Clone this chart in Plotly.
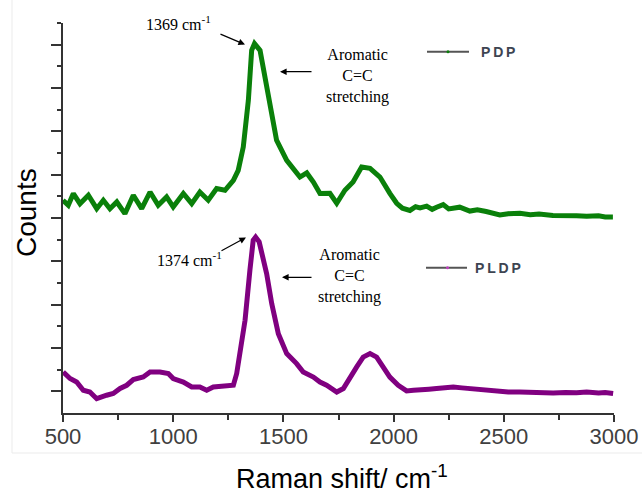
import plotly.graph_objects as go

# ---------------- data ----------------
pdp_x = [500, 524, 547, 577, 615, 653, 683, 713, 744, 781, 819, 857, 895, 932, 970,
         1000, 1046, 1084, 1121, 1159, 1197, 1235, 1273, 1295, 1318, 1341, 1356, 1369,
         1394, 1416, 1439, 1469, 1515, 1575, 1606, 1636, 1666, 1711, 1742, 1779, 1816,
         1855, 1893, 1938, 1983, 2014, 2040, 2074, 2100, 2120, 2150, 2175, 2195, 2225,
         2250, 2271, 2300, 2346, 2380, 2420, 2450, 2482, 2520, 2573, 2620, 2660, 2723,
         2780, 2830, 2876, 2930, 2960, 2995]
pdp_y = [9.82, 9.59, 10.13, 9.66, 10.05, 9.43, 9.82, 9.43, 9.74, 9.20, 10.05, 9.43, 10.20,
         9.59, 9.97, 9.51, 10.13, 9.66, 10.20, 9.82, 10.36, 10.28, 10.74, 11.20, 12.28,
         14.43, 16.74, 17.05, 16.74, 15.51, 13.97, 12.59, 11.66, 10.89, 11.08, 10.66,
         10.13, 10.14, 9.68, 10.28, 10.66, 11.35, 11.29, 10.89, 10.14, 9.68, 9.45, 9.35,
         9.52, 9.47, 9.55, 9.40, 9.50, 9.62, 9.42, 9.45, 9.50, 9.32, 9.38, 9.30, 9.25,
         9.14, 9.20, 9.22, 9.15, 9.18, 9.12, 9.14, 9.10, 9.08, 9.10, 9.05, 9.05]

pldp_x = [501, 532, 562, 592, 622, 653, 698, 728, 759, 789, 819, 864, 895, 940, 978,
          1000, 1046, 1084, 1121, 1152, 1182, 1227, 1273, 1288, 1303, 1326, 1348, 1363,
          1374, 1390, 1424, 1447, 1477, 1515, 1560, 1590, 1636, 1666, 1696, 1742, 1772,
          1802, 1832, 1862, 1893, 1923, 1953, 1983, 2021, 2059, 2090, 2120, 2160, 2195,
          2230, 2271, 2310, 2346, 2380, 2422, 2470, 2520, 2573, 2630, 2680, 2724, 2780,
          2830, 2876, 2930, 2960, 2996]
pldp_y = [1.89, 1.59, 1.43, 1.05, 0.97, 0.66, 0.82, 0.90, 1.13, 1.28, 1.54, 1.66, 1.89,
          1.89, 1.82, 1.59, 1.43, 1.20, 1.20, 1.05, 1.20, 1.23, 1.28, 1.82, 2.74, 4.28,
          6.59, 7.97, 8.12, 7.90, 6.43, 5.05, 3.66, 2.74, 2.28, 1.89, 1.66, 1.43, 1.28,
          0.97, 1.13, 1.66, 2.12, 2.58, 2.74, 2.58, 2.12, 1.66, 1.28, 1.02, 1.05, 1.05,
          1.10, 1.13, 1.18, 1.20, 1.16, 1.13, 1.10, 1.02, 1.00, 0.97, 0.97, 0.94, 0.96,
          0.92, 0.95, 0.93, 0.97, 0.92, 0.95, 0.90]

x_ticks = [500, 1000, 1500, 2000, 2500, 3000]
x_tick_labels = ["500", "1000", "1500", "2000", "2500", "3000"]
y_major = [1, 3, 5, 7, 9, 11, 13, 15, 17]
y_minor = [2, 4, 6, 8, 10, 12, 14, 16, 18]

series_names = ["PDP", "PLDP"]
peak_labels = ["1369 cm<sup>-1</sup>", "1374 cm<sup>-1</sup>"]
band_label = "Aromatic<br>C=C<br>stretching"

GREEN = "#0a800a"
PURPLE = "#800080"

# ---------------- layout helpers (pixel -> paper) ----------------
L, R, T, B = 63, 28, 23, 80
W, H = 642, 493
PW, PH = W - L - R, H - T - B


def px(p):
    return (p - L) / PW


def py(p):
    return (H - B - p) / PH


fig = go.Figure()
fig.add_trace(go.Scatter(x=pdp_x, y=pdp_y, mode="lines", name=series_names[0],
                         line=dict(color=GREEN, width=5), showlegend=False))
fig.add_trace(go.Scatter(x=pldp_x, y=pldp_y, mode="lines", name=series_names[1],
                         line=dict(color=PURPLE, width=5), showlegend=False))

serif = "Liberation Serif, Times New Roman, serif"
sans = "Liberation Sans, Arial, sans-serif"

txt = dict(xref="paper", yref="paper", showarrow=False, xanchor="center",
           yanchor="middle")
ann = []
# peak labels
ann.append(dict(txt, x=px(178), y=py(23), text=peak_labels[0],
                font=dict(family=serif, size=16, color="black")))
ann.append(dict(txt, x=px(189), y=py(259), text=peak_labels[1],
                font=dict(family=serif, size=16, color="black")))
# band labels
ann.append(dict(txt, x=px(357), y=py(76), text=band_label,
                font=dict(family=serif, size=16, color="black")))
ann.append(dict(txt, x=px(349), y=py(276), text=band_label,
                font=dict(family=serif, size=16, color="black")))
# arrows
arrow = dict(xref="paper", yref="paper", text="", showarrow=True, arrowhead=2,
             arrowsize=1.1, arrowwidth=1.2, arrowcolor="black")
ann.append(dict(arrow, x=px(245), y=py(44.5), ax=-26, ay=-11))
ann.append(dict(arrow, x=px(280), y=py(71.7), ax=33, ay=0))
ann.append(dict(arrow, x=px(246), y=py(237.5), ax=-26, ay=14))
ann.append(dict(arrow, x=px(282), y=py(277.3), ax=31, ay=0))
# legend texts
leg_font = dict(family=sans, size=14, color="#3d4451", weight="bold")
ann.append(dict(txt, x=px(479), y=py(52), text="P\u2009D\u2009P", xanchor="left",
                font=leg_font))
ann.append(dict(txt, x=px(473), y=py(267.5), text="P\u2009L\u2009D\u2009P",
                xanchor="left", font=leg_font))
# axis titles
ann.append(dict(txt, x=px(342), y=py(477), text="Raman shift/ cm<sup>-1</sup>",
                font=dict(family=sans, size=27, color="black")))
ann.append(dict(txt, x=px(26), y=py(213), text="Counts", textangle=-90,
                font=dict(family=sans, size=28, color="black")))

shapes = [
    # faint chart-area frame
    dict(type="rect", xref="paper", yref="paper", x0=px(12), x1=px(700), y0=py(453),
         y1=py(-20), line=dict(color="#ebebeb", width=1), layer="below"),
    # legend samples
    dict(type="line", xref="paper", yref="paper", x0=px(427), x1=px(469), y0=py(51.7),
         y1=py(51.7), line=dict(color="#555555", width=2)),
    dict(type="circle", xref="paper", yref="paper", x0=px(446.5), x1=px(449.5),
         y0=py(50.2), y1=py(53.2), fillcolor=GREEN, line=dict(width=0)),
    dict(type="line", xref="paper", yref="paper", x0=px(426), x1=px(467), y0=py(267.7),
         y1=py(267.7), line=dict(color="#555555", width=2)),
    dict(type="circle", xref="paper", yref="paper", x0=px(446), x1=px(449),
         y0=py(266.2), y1=py(269.2), fillcolor="#c040c0", line=dict(width=0)),
]

fig.update_layout(
    width=W, height=H,
    margin=dict(l=L, r=R, t=T, b=B, autoexpand=False),
    paper_bgcolor="white", plot_bgcolor="white",
    showlegend=False,
    annotations=ann, shapes=shapes,
    xaxis=dict(range=[500, 3000], tickmode="array", tickvals=x_ticks,
               ticktext=x_tick_labels, ticks="outside", ticklen=7, tickwidth=1.5,
               tickcolor="#333333", showline=True, linecolor="#333333", linewidth=1.5,
               showgrid=False, zeroline=False, automargin=False, ticklabelstandoff=-4,
               minor=dict(dtick=250, tick0=500, ticks="outside", ticklen=5,
                          tickwidth=1.5, tickcolor="#333333"),
               tickfont=dict(family=sans, size=22, color="#404040")),
    yaxis=dict(range=[0, 18], tickmode="array", tickvals=y_major, showticklabels=False,
               ticks="outside", ticklen=10, tickwidth=1.5, tickcolor="#333333",
               showline=True, linecolor="#333333", linewidth=1.5, showgrid=False,
               zeroline=False, automargin=False,
               minor=dict(tickvals=y_minor, ticks="outside", ticklen=4, tickwidth=1.5,
                          tickcolor="#333333")),
)

fig.write_html("out.html")
